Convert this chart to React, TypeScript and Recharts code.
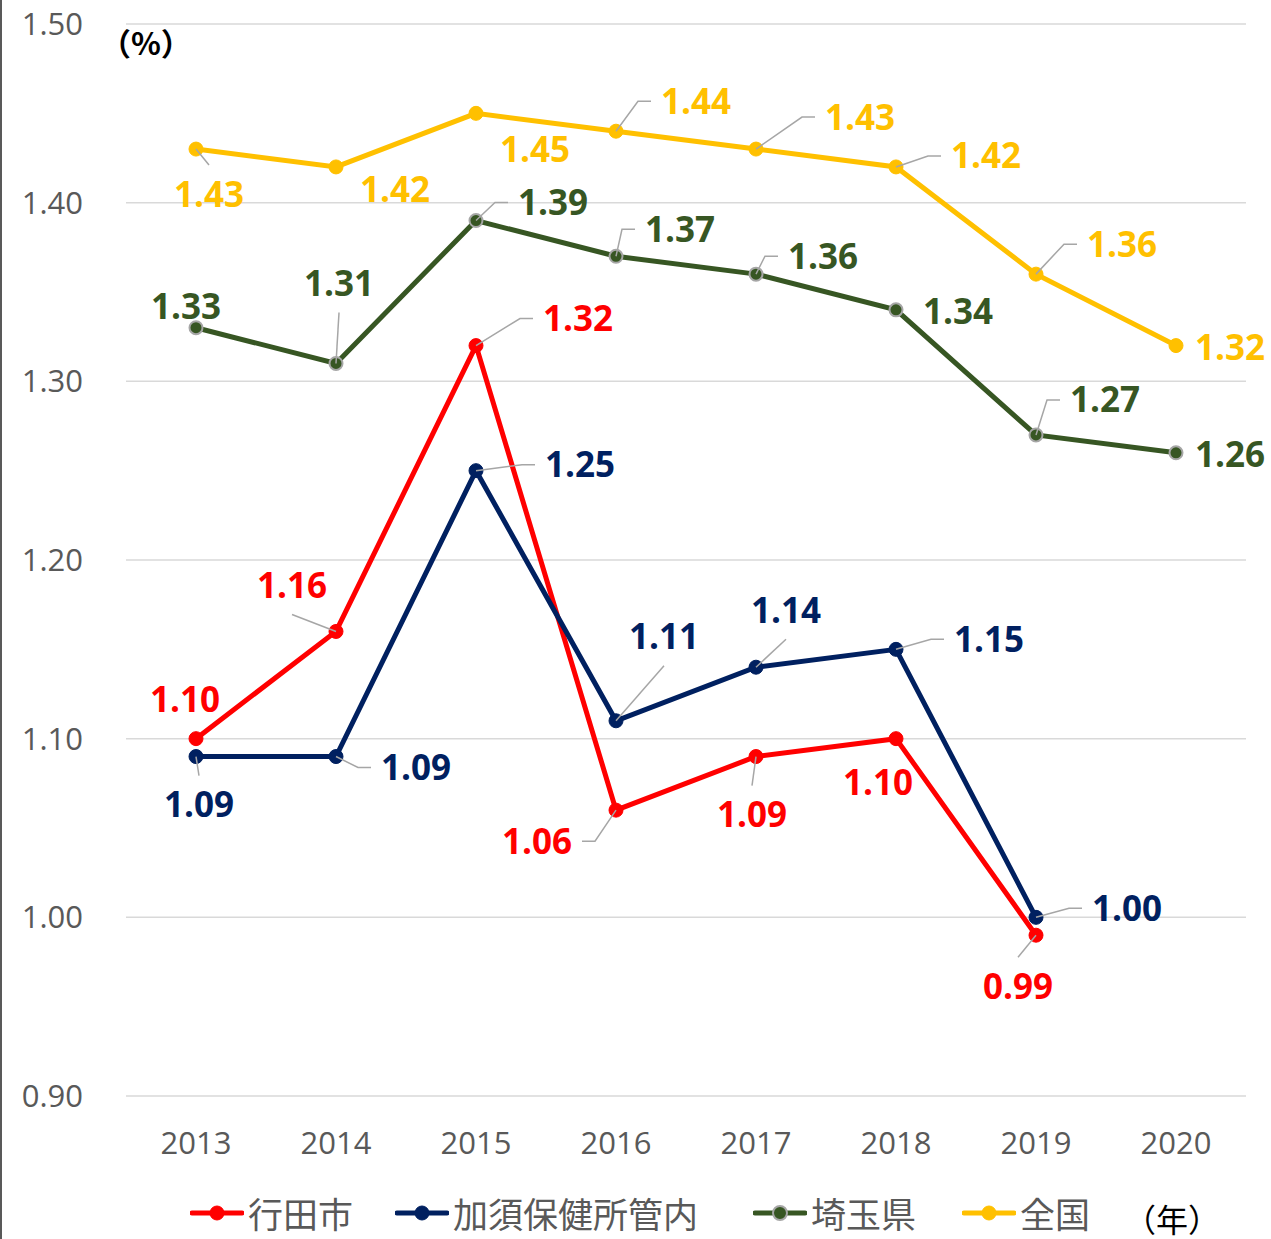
import { LineChart, Line, XAxis, YAxis, CartesianGrid, LabelList } from "recharts";

const YEARS = ["2013", "2014", "2015", "2016", "2017", "2018", "2019", "2020"];
const GYODA = [1.1, 1.16, 1.32, 1.06, 1.09, 1.1, 0.99, null];
const KAZO = [1.09, 1.09, 1.25, 1.11, 1.14, 1.15, 1.0, null];
const SAITAMA = [1.33, 1.31, 1.39, 1.37, 1.36, 1.34, 1.27, 1.26];
const ZENKOKU = [1.43, 1.42, 1.45, 1.44, 1.43, 1.42, 1.36, 1.32];
const Y_TICKS = [0.9, 1.0, 1.1, 1.2, 1.3, 1.4, 1.5];

// label offsets from the point: [dx, dy, leader]
const GYODA_LABELS: [number, number, boolean][] = [
  [-11, -39, false], [-44, -46, true], [102, -27, true], [-79, 31, true],
  [-4, 58, true], [-18, 44, false], [-18, 51, true],
];
const KAZO_LABELS: [number, number, boolean][] = [
  [3, 48, true], [80, 11, true], [104, -6, true], [48, -84, true],
  [30, -57, true], [93, -10, true], [91, -9, true],
];
const SAITAMA_LABELS: [number, number, boolean][] = [
  [-10, -21, false], [3, -80, true], [77, -18, true], [64, -27, true],
  [67, -18, true], [62, 2, true], [69, -35, true], [54, 2, true],
];
const ZENKOKU_LABELS: [number, number, boolean][] = [
  [13, 45, true], [59, 23, false], [59, 36, false], [80, -30, true],
  [104, -32, true], [90, -11, true], [86, -30, true], [54, 2, true],
];

const SERIES = [
  { key: "gyoda", name: "行田市", values: GYODA, color: "#FF0000", labels: GYODA_LABELS },
  { key: "kazo", name: "加須保健所管内", values: KAZO, color: "#002060", labels: KAZO_LABELS },
  { key: "saitama", name: "埼玉県", values: SAITAMA, color: "#375623", labels: SAITAMA_LABELS },
  { key: "zenkoku", name: "全国", values: ZENKOKU, color: "#FFC000", labels: ZENKOKU_LABELS },
];

const data = YEARS.map((year, i) => {
  const row: Record<string, string | number | null> = { year };
  SERIES.forEach((s) => (row[s.key] = s.values[i]));
  return row;
});

const NUM_FONT = "'Open Sans', 'Noto Sans', sans-serif";
const JP_FONT = "'Noto Sans CJK JP', 'Noto Sans', sans-serif";
const LABEL_SIZE = 35;
const LW = 72;
const LH = 30;

function makeLabel(color: string, labels: [number, number, boolean][]) {
  return (props: any) => {
    const { x, y, value, index } = props;
    if (value == null || x == null || y == null) return null;
    const [dx, dy, leader] = labels[index] || [0, -30, false];
    const cx = x + dx;
    const cy = y + dy;
    let pts: [number, number][] = [];
    if (leader) {
      const side = Math.abs(dx) - LW / 2 > Math.abs(dy) - LH / 2;
      if (side) {
        const edge = dx > 0 ? cx - LW / 2 : cx + LW / 2;
        const s = dx > 0 ? -1 : 1;
        const knee: [number, number] = [edge + s * 22, cy];
        const tail: [number, number] = [edge + s * 9, cy];
        if (Math.hypot(knee[0] - x, knee[1] - y) > 18) pts = [[x, y], knee, tail];
      } else {
        const knee: [number, number] = [cx, dy < 0 ? cy + LH / 2 + 14 : cy - LH / 2 - 14];
        if (Math.hypot(knee[0] - x, knee[1] - y) > 18) pts = [[x, y], knee];
      }
    }
    return (
      <g>
        {pts.length > 0 && (
          <polyline
            points={pts.map((p) => p.join(",")).join(" ")}
            fill="none"
            stroke="#A6A6A6"
            strokeWidth={1.5}
          />
        )}
        <text
          x={cx}
          y={cy + LABEL_SIZE * 0.357}
          textAnchor="middle"
          fill={color}
          fontFamily={NUM_FONT}
          fontWeight={700}
          fontSize={LABEL_SIZE}
        >
          {Number(value).toFixed(2)}
        </text>
      </g>
    );
  };
}

function LegendIcon({ color, green }: { color: string; green?: boolean }) {
  return (
    <svg width={54} height={20} style={{ display: "block" }}>
      <line x1={2} y1={10} x2={52} y2={10} stroke={color} strokeWidth={5} strokeLinecap="round" />
      <circle cx={27} cy={10} r={7} fill={color} stroke={green ? "#A6A6A6" : color} strokeWidth={green ? 2 : 1} />
    </svg>
  );
}

export default function App() {
  const legendLefts = [190, 395, 753, 962];
  return (
    <div style={{ position: "absolute", left: 0, top: 0, width: 1271, height: 1239, background: "#fff" }}>
      <div style={{ position: "absolute", left: 0, top: 0, width: 2, height: 1239, background: "#595959" }} />
      <LineChart width={1271} height={1239} data={data} margin={{ top: 24, right: 25, bottom: 0, left: 0 }}>
        <CartesianGrid vertical={false} stroke="#D9D9D9" strokeWidth={1.5} />
        <XAxis
          dataKey="year"
          height={143}
          padding={{ left: 70, right: 70 }}
          axisLine={false}
          tickLine={false}
          tickSize={0}
          tickMargin={36}
          tick={{ fill: "#595959", fontSize: 31, fontFamily: NUM_FONT }}
        />
        <YAxis
          width={126}
          domain={[0.9, 1.5]}
          ticks={Y_TICKS}
          interval={0}
          axisLine={false}
          tickLine={false}
          tickSize={0}
          tickMargin={43}
          tickFormatter={(v: number) => v.toFixed(2)}
          tick={{ fill: "#595959", fontSize: 31, fontFamily: NUM_FONT }}
        />
        {SERIES.map((s) => (
          <Line
            key={s.key}
            dataKey={s.key}
            name={s.name}
            stroke={s.color}
            strokeWidth={5}
            isAnimationActive={false}
            connectNulls={false}
            dot={{
              r: s.key === "saitama" ? 6.5 : 7,
              fill: s.color,
              stroke: s.key === "saitama" ? "#A6A6A6" : s.color,
              strokeWidth: s.key === "saitama" ? 2 : 1,
            }}
            activeDot={false}
          >
            <LabelList dataKey={s.key} content={makeLabel(s.color, s.labels)} />
          </Line>
        ))}
      </LineChart>
      <div
        style={{
          position: "absolute",
          left: 100,
          top: 22,
          fontFamily: JP_FONT,
          fontSize: 31,
          fontWeight: 700,
          color: "#000",
          lineHeight: "40px",
        }}
      >
        （%）
      </div>
      {SERIES.map((s, i) => (
        <div
          key={s.key}
          style={{
            position: "absolute",
            left: legendLefts[i],
            top: 1191,
            height: 44,
            display: "flex",
            alignItems: "center",
            gap: 4,
          }}
        >
          <LegendIcon color={s.color} green={s.key === "saitama"} />
          <span style={{ fontFamily: JP_FONT, fontSize: 35, color: "#595959", lineHeight: "44px" }}>{s.name}</span>
        </div>
      ))}
      <div
        style={{
          position: "absolute",
          left: 1124,
          top: 1200,
          fontFamily: JP_FONT,
          fontSize: 32,
          color: "#000",
          lineHeight: "36px",
        }}
      >
        （年）
      </div>
    </div>
  );
}
